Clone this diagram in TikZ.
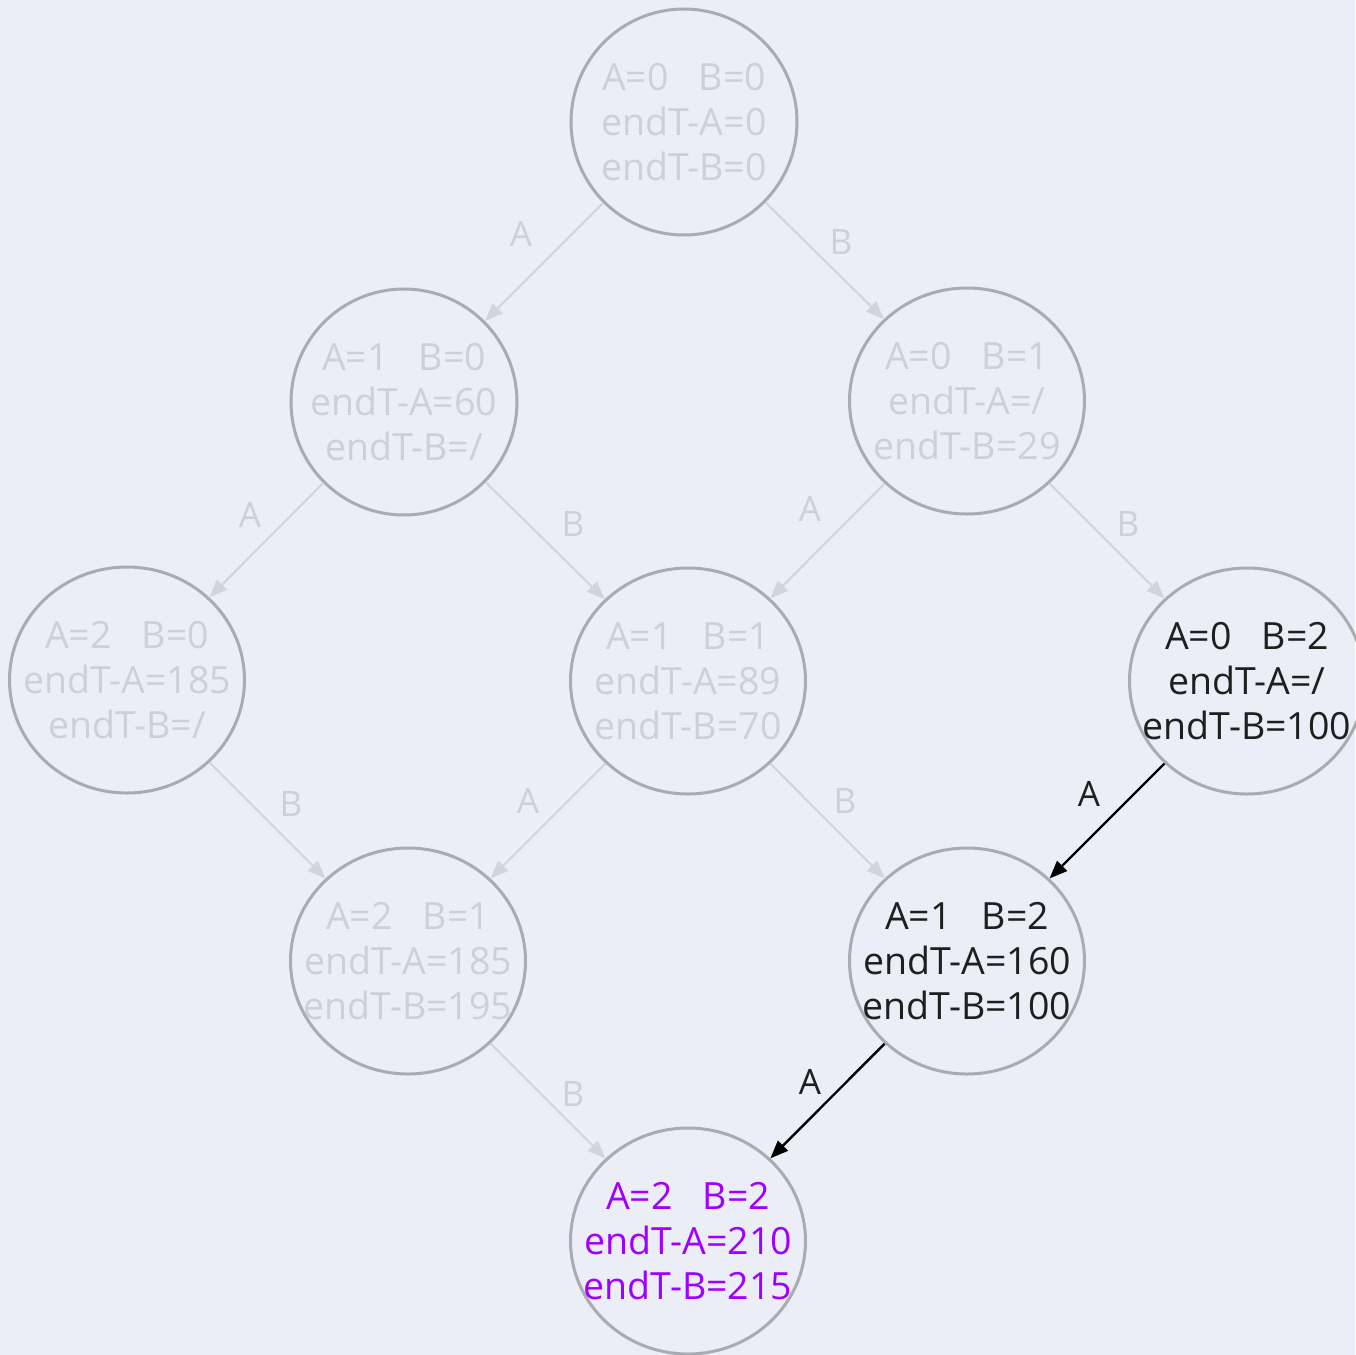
\documentclass[tikz,border=0pt]{standalone}
\usepackage{fontspec}
\setmainfont{Open Sans}
\usetikzlibrary{arrows.meta,shapes.geometric}
\definecolor{bgcol}{HTML}{ECEEF7}
\definecolor{ringcol}{HTML}{A9AAB2}
\definecolor{fadetext}{HTML}{CFCFD7}
\definecolor{fadeline}{HTML}{D3D3DA}
\definecolor{darktext}{HTML}{1F1F1F}
\definecolor{goaltext}{HTML}{A000FF}
\tikzset{
  ring/.style={ellipse, draw=ringcol, line width=3pt, inner sep=0pt,
    minimum height=226pt, minimum width=#1},
  ring/.default=235pt,
  stext/.style={align=center, inner sep=0pt, font=\fontsize{37.5}{45}\selectfont},
  faded/.style={stext, text=fadetext},
  active/.style={stext, text=darktext},
  goal/.style={stext, text=goaltext},
  fadedge/.style={draw=fadeline, line width=2pt, -{Triangle[length=18pt,width=14pt]}},
  activeedge/.style={draw=black, line width=2.4pt, -{Triangle[length=18pt,width=14pt]}},
  elab/.style={inner sep=0pt, font=\fontsize{35}{40}\selectfont},
  fadelab/.style={elab, text=fadetext},
  activelab/.style={elab, text=darktext}
}
\newcommand{\gap}{\hspace{0.8em}}
\begin{document}
\begin{tikzpicture}[x=1pt, y=-1pt]
  \useasboundingbox (0,0) rectangle (1355,1355);
  \fill[bgcol] (0,0) rectangle (1355,1355);

  % states: outlines
  \node[ring=226pt] (s00) at (684,122) {};
  \node[ring=226pt] (s10) at (404,402) {};
  \node[ring] (s01) at (967,401) {};
  \node[ring] (s20) at (127,680) {};
  \node[ring] (s11) at (688,681) {};
  \node[ring] (s02) at (1247,681) {};
  \node[ring] (s21) at (408,961) {};
  \node[ring] (s12) at (967,961) {};
  \node[ring] (s22) at (688,1241) {};

  % states: contents
  \node[faded] (t00) at (s00) {A=0\gap B=0\\endT-A=0\\endT-B=0};
  \node[faded] (t10) at (s10) {A=1\gap B=0\\endT-A=60\\endT-B=/};
  \node[faded] (t01) at (s01) {A=0\gap B=1\\endT-A=/\\endT-B=29};
  \node[faded] (t20) at (s20) {A=2\gap B=0\\endT-A=185\\endT-B=/};
  \node[faded] (t11) at (s11) {A=1\gap B=1\\endT-A=89\\endT-B=70};
  \node[active] (t02) at (s02) {A=0\gap B=2\\endT-A=/\\endT-B=100};
  \node[faded] (t21) at (s21) {A=2\gap B=1\\endT-A=185\\endT-B=195};
  \node[active] (t12) at (s12) {A=1\gap B=2\\endT-A=160\\endT-B=100};
  \node[goal] (t22) at (s22) {A=2\gap B=2\\endT-A=210\\endT-B=215};

  % transitions
  \draw[fadedge] (s00) -- (s10);
  \draw[fadedge] (s00) -- (s01);
  \draw[fadedge] (s10) -- (s20);
  \draw[fadedge] (s10) -- (s11);
  \draw[fadedge] (s01) -- (s11);
  \draw[fadedge] (s01) -- (s02);
  \draw[fadedge] (s20) -- (s21);
  \draw[fadedge] (s11) -- (s21);
  \draw[fadedge] (s11) -- (s12);
  \draw[fadedge] (s21) -- (s22);
  \draw[activeedge] (s02) -- (s12);
  \draw[activeedge] (s12) -- (s22);

  % transition labels
  \node[fadelab] (l1) at (521,234) {A};
  \node[fadelab] (l2) at (841,242) {B};
  \node[fadelab] (l3) at (250,515) {A};
  \node[fadelab] (l4) at (573,524) {B};
  \node[fadelab] (l5) at (810,509) {A};
  \node[fadelab] (l6) at (1128,524) {B};
  \node[fadelab] (l7) at (291,804) {B};
  \node[fadelab] (l8) at (528,801) {A};
  \node[fadelab] (l9) at (845,801) {B};
  \node[activelab] (l10) at (1089,794) {A};
  \node[fadelab] (l11) at (573,1094) {B};
  \node[activelab] (l12) at (810,1082) {A};
\end{tikzpicture}
\end{document}
